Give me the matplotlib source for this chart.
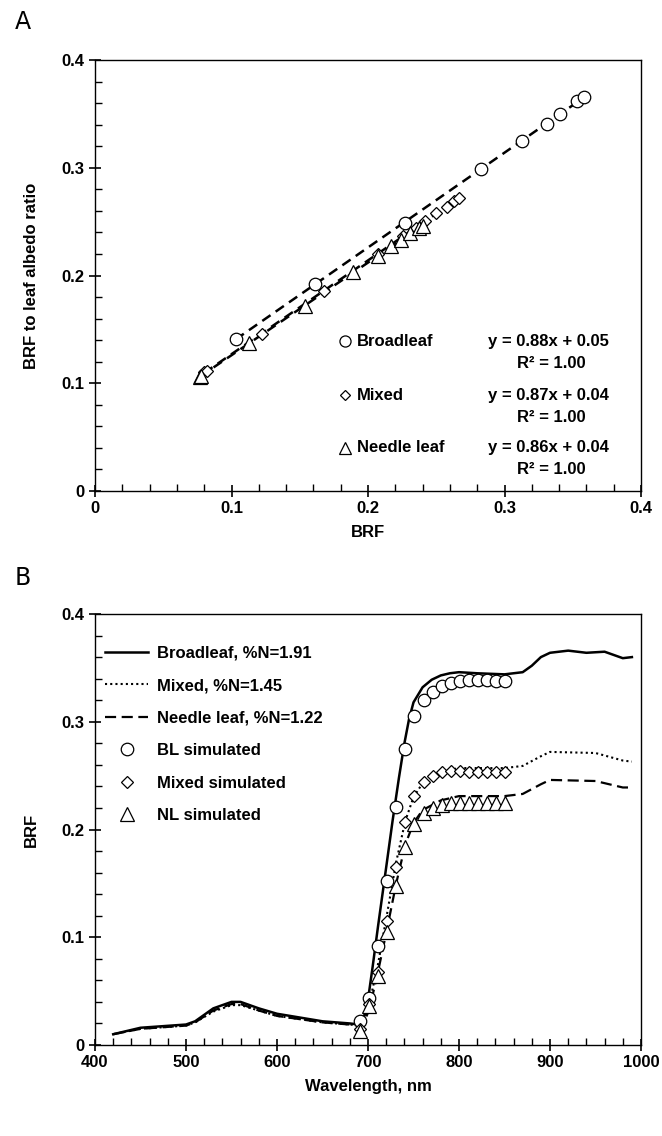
import matplotlib
matplotlib.use("Agg")
import matplotlib.pyplot as plt
from matplotlib.ticker import MultipleLocator
import numpy as np

plt.rcParams['font.family'] = ['Liberation Sans', 'DejaVu Sans']

# ---------------- Panel A data ----------------
bl_x = [0.103, 0.161, 0.227, 0.283, 0.313, 0.331, 0.341, 0.353, 0.358]
bl_y = [0.141, 0.192, 0.249, 0.299, 0.325, 0.341, 0.350, 0.362, 0.366]
mx_x = [0.080, 0.082, 0.122, 0.168, 0.207, 0.226, 0.235, 0.242, 0.250, 0.258, 0.263, 0.267]
mx_y = [0.110, 0.111, 0.146, 0.186, 0.220, 0.237, 0.244, 0.251, 0.258, 0.264, 0.269, 0.272]
nl_x = [0.077, 0.078, 0.113, 0.154, 0.189, 0.207, 0.217, 0.224, 0.231, 0.237, 0.240]
nl_y = [0.106, 0.107, 0.137, 0.172, 0.203, 0.218, 0.227, 0.233, 0.239, 0.244, 0.246]
fits = {"Broadleaf": (0.88, 0.05), "Mixed": (0.87, 0.04), "Needle leaf": (0.86, 0.04)}
a_ticks = [0, 0.1, 0.2, 0.3, 0.4]
a_ticklabels = ["0", "0.1", "0.2", "0.3", "0.4"]

# ---------------- Panel B data ----------------
bl_wl = [420, 450, 500, 510, 530, 550, 560, 580, 600, 650, 680, 690, 695, 700, 705, 711, 720, 727, 734,
         740, 745, 750, 760, 770, 780, 790, 800, 820, 850, 870, 880, 890, 900, 920, 940, 960, 980, 990]
bl_brf = [0.010, 0.016, 0.019, 0.022, 0.034, 0.040, 0.040, 0.034, 0.029, 0.022, 0.020, 0.019, 0.024,
          0.042, 0.072, 0.110, 0.165, 0.208, 0.248, 0.280, 0.302, 0.318, 0.332, 0.339, 0.343, 0.345,
          0.346, 0.345, 0.344, 0.346, 0.352, 0.360, 0.364, 0.366, 0.364, 0.365, 0.359, 0.360]
mx_wl = [420, 450, 500, 510, 530, 550, 560, 580, 600, 650, 680, 690, 695, 700, 705, 711, 721, 731, 741,
         750, 760, 770, 780, 800, 850, 870, 890, 900, 950, 980, 990]
mx_brf = [0.010, 0.015, 0.018, 0.021, 0.031, 0.037, 0.037, 0.032, 0.027, 0.021, 0.019, 0.018, 0.021,
          0.034, 0.052, 0.075, 0.122, 0.170, 0.208, 0.230, 0.243, 0.250, 0.254, 0.257, 0.257, 0.259,
          0.268, 0.272, 0.271, 0.264, 0.263]
nl_wl = [420, 450, 500, 510, 530, 550, 560, 580, 600, 650, 680, 690, 695, 700, 705, 711, 721, 731, 741,
         750, 760, 780, 800, 850, 870, 890, 900, 950, 980, 990]
nl_brf = [0.010, 0.015, 0.018, 0.021, 0.032, 0.038, 0.038, 0.032, 0.027, 0.021, 0.019, 0.018, 0.020,
          0.030, 0.046, 0.068, 0.108, 0.150, 0.186, 0.206, 0.218, 0.227, 0.231, 0.231, 0.233, 0.242,
          0.246, 0.245, 0.239, 0.239]
sim_wl = [691, 701, 711, 721, 731, 741, 751, 761, 771, 781, 791, 801, 811, 821, 831, 841, 851]
bls_brf = [0.022, 0.044, 0.092, 0.152, 0.221, 0.275, 0.305, 0.320, 0.328, 0.333, 0.336, 0.338, 0.339,
           0.339, 0.339, 0.338, 0.338]
mxs_brf = [0.015, 0.038, 0.068, 0.115, 0.165, 0.207, 0.231, 0.244, 0.250, 0.253, 0.254, 0.254, 0.253,
           0.253, 0.253, 0.253, 0.253]
nls_brf = [0.013, 0.036, 0.064, 0.105, 0.148, 0.184, 0.205, 0.215, 0.220, 0.223, 0.225, 0.225, 0.225,
           0.225, 0.225, 0.225, 0.225]
b_xticks = [400, 500, 600, 700, 800, 900, 1000]
b_yticks = [0, 0.1, 0.2, 0.3, 0.4]

W, H = 662, 1136
fig = plt.figure(figsize=(W / 100, H / 100), dpi=100)

def ax_at(l, r, t, b):
    return fig.add_axes([l / W, 1 - b / H, (r - l) / W, (b - t) / H])

FS = 12
bold = dict(fontweight='bold', fontsize=FS)

def style(ax):
    for s in ax.spines.values():
        s.set_linewidth(1.0)
    ax.tick_params(which='major', direction='inout', length=9, width=1.2, pad=3)
    ax.tick_params(which='minor', direction='in', length=5, width=1.0)
    for lab in ax.get_xticklabels() + ax.get_yticklabels():
        lab.set_fontweight('bold')
        lab.set_fontsize(FS)

mk = dict(mfc='white', mec='black', mew=0.9, ls='none', zorder=3)

# ---------------- Panel A ----------------
axA = ax_at(95, 641, 60, 491)
axA.plot(bl_x, bl_y, marker='o', ms=9, **mk)
axA.plot(mx_x, mx_y, marker='D', ms=6, **mk)
axA.plot(nl_x, nl_y, marker='^', ms=9.5, **mk)
for xs, key in [(bl_x, "Broadleaf"), (mx_x, "Mixed"), (nl_x, "Needle leaf")]:
    m, c = fits[key]
    xx = np.array([min(xs), max(xs)])
    axA.plot(xx, m * xx + c, color='black', ls=(0, (4, 2.5)), lw=1.8, zorder=2)
axA.set_xlim(0, 0.4)
axA.set_ylim(0, 0.4)
axA.set_xticks(a_ticks)
axA.set_xticklabels(a_ticklabels)
axA.set_yticks(a_ticks)
axA.set_yticklabels(a_ticklabels)
axA.xaxis.set_minor_locator(MultipleLocator(0.02))
axA.yaxis.set_minor_locator(MultipleLocator(0.02))
style(axA)
axA.set_xlabel("BRF", **bold, labelpad=6)
axA.set_ylabel("BRF to leaf albedo ratio", **bold, labelpad=16)

rows = [("Broadleaf", 'o', 8, 0.139), ("Mixed", 'D', 5, 0.089), ("Needle leaf", '^', 8, 0.040)]
for name, m_, ms_, yv in rows:
    axA.plot([0.183], [yv], marker=m_, ms=ms_, mfc='white', mec='black', mew=0.9)
    axA.text(0.192, yv, name, ha='left', va='center', **bold)
    mm, cc = fits[name]
    axA.text(0.332, yv, f"y = {mm:.2f}x + {cc:.2f}", ha='center', va='center', **bold)
    axA.text(0.334, yv - 0.0205, "R\u00b2 = 1.00", ha='center', va='center', **bold)

fig.text(15 / W, 1 - 22 / H, "A", fontsize=17, ha='left', va='center', family='DejaVu Sans')

# ---------------- Panel B ----------------
axB = ax_at(95, 641, 614, 1045)
axB.plot(bl_wl, bl_brf, color='black', lw=1.8, ls='-', label="Broadleaf, %N=1.91")
axB.plot(mx_wl, mx_brf, color='black', lw=1.5, ls=(0, (1, 1.5)), label="Mixed, %N=1.45")
axB.plot(nl_wl, nl_brf, color='black', lw=1.6, ls=(0, (5, 2.5)), label="Needle leaf, %N=1.22")
axB.plot(sim_wl, bls_brf, marker='o', ms=9, label="BL simulated", **mk)
axB.plot(sim_wl, mxs_brf, marker='D', ms=6, label="Mixed simulated", **mk)
axB.plot(sim_wl, nls_brf, marker='^', ms=9.5, label="NL simulated", **mk)
axB.set_xlim(400, 1000)
axB.set_ylim(0, 0.4)
axB.set_xticks(b_xticks)
axB.set_yticks(b_yticks)
axB.set_yticklabels(["0", "0.1", "0.2", "0.3", "0.4"])
axB.xaxis.set_minor_locator(MultipleLocator(20))
axB.yaxis.set_minor_locator(MultipleLocator(0.02))
style(axB)
axB.set_xlabel("Wavelength, nm", **bold, labelpad=6)
axB.set_ylabel("BRF", **bold, labelpad=16)
leg = axB.legend(loc='upper left', bbox_to_anchor=(-0.012, 0.965), frameon=False,
                 prop=dict(weight='bold', size=FS), handlelength=2.6, labelspacing=1.05,
                 handletextpad=0.5, borderaxespad=0.6)

fig.text(15 / W, 1 - 578 / H, "B", fontsize=17, ha='left', va='center', family='DejaVu Sans')

fig.savefig("out.png", dpi=100)
